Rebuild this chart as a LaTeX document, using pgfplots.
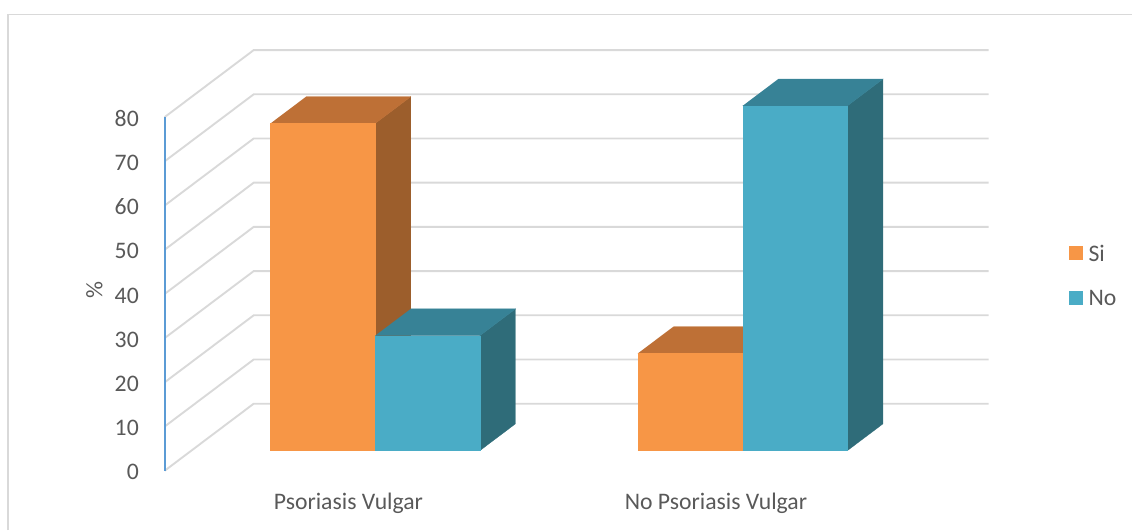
\documentclass[border=0pt]{standalone}
\usepackage{pgfplots}
\pgfplotsset{compat=1.18}
\usepackage{fontspec}
\setmainfont{Carlito}

% face colours of the two series
\definecolor{siFront}{HTML}{F79646}
\definecolor{siTop}{HTML}{BE7036}
\definecolor{siSide}{HTML}{9C5E2C}
\definecolor{noFront}{HTML}{4AACC6}
\definecolor{noTop}{HTML}{378296}
\definecolor{noSide}{HTML}{2F6C79}
\definecolor{gridc}{HTML}{D9D9D9}
\definecolor{axisc}{HTML}{5B9BD5}
\definecolor{txt}{HTML}{595959}

% a bar as a box: #1 left, #2 right, #3 value, #4 front, #5 top, #6 side
\newcommand{\cuboid}[6]{%
  \addplot3[mark=none, fill=#6, draw=#6, line width=0.3pt]
    coordinates {(#2,0.3,0) (#2,0.7,0) (#2,0.7,#3) (#2,0.3,#3)};
  \addplot3[mark=none, fill=#5, draw=#5, line width=0.3pt]
    coordinates {(#1,0.3,#3) (#2,0.3,#3) (#2,0.7,#3) (#1,0.7,#3)};
  \addplot3[mark=none, fill=#4, draw=#4, line width=0.3pt]
    coordinates {(#1,0.3,0) (#2,0.3,0) (#2,0.3,#3) (#1,0.3,#3)};
}

\begin{document}
\begin{tikzpicture}[font={\fontsize{23.7}{28.4}\selectfont}, text=txt]
\begin{axis}[
  x={(367.5pt,0pt)}, y={(89pt,67pt)}, z={(0pt,4.42pt)},
  xmin=0, xmax=2, ymin=0, ymax=1, zmin=0, zmax=80,
  hide axis, clip=false,
]
  \coordinate (O) at (axis cs:0,0,0);
  % side wall and back wall gridlines
  \pgfplotsinvokeforeach{0,10,...,80}{
    \addplot3[mark=none, draw=gridc, line width=1.9pt]
      coordinates {(0,0,#1) (0,1,#1) (2,1,#1)};
  }
  % value axis
  \addplot3[mark=none, draw=axisc, line width=2pt]
    coordinates {(0,0,0) (0,0,80)};
  \pgfplotsinvokeforeach{0,10,...,80}{
    \node[anchor=east, xshift=-22.4pt, yshift=-1.5pt] at (axis cs:0,0,#1) {#1};
  }
  % Psoriasis Vulgar: Si 74, No 26
  \cuboid{0.215}{0.5}{74}{siFront}{siTop}{siSide}
  \cuboid{0.5}{0.785}{26}{noFront}{noTop}{noSide}
  % No Psoriasis Vulgar: Si 22, No 78
  \cuboid{1.215}{1.5}{22}{siFront}{siTop}{siSide}
  \cuboid{1.5}{1.785}{78}{noFront}{noTop}{noSide}
  % category names
  \node[anchor=base, yshift=-38.3pt] at (axis cs:0.5,0,0) {Psoriasis Vulgar};
  \node[anchor=base, yshift=-38.3pt] at (axis cs:1.5,0,0) {No Psoriasis Vulgar};
\end{axis}
% chart area
\path (O) ++(-164.7pt,-59.3pt) coordinate (SW);
\useasboundingbox (SW) rectangle ++(1132pt,530pt);
\draw[gridc, line width=1.9pt] (SW) ++(8.3pt,0pt) |- ++(1123.7pt,515.5pt);
% value-axis title
\node[rotate=90] at ([shift={(94.3pt,240pt)}]SW) {\%};
% legend
\fill[siFront] ([shift={(1069pt,270.3pt)}]SW) rectangle ++(13.7pt,13.7pt);
\node[anchor=west, inner sep=0pt] at ([shift={(1088.3pt,277pt)}]SW) {Si};
\fill[noFront] ([shift={(1069pt,225.3pt)}]SW) rectangle ++(13.7pt,13.7pt);
\node[anchor=west, inner sep=0pt] at ([shift={(1088.3pt,232pt)}]SW) {No};
\end{tikzpicture}
\end{document}
